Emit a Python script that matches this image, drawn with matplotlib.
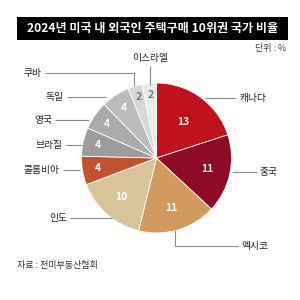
import matplotlib
matplotlib.use("Agg")
import matplotlib.pyplot as plt
from matplotlib.patches import Rectangle
import numpy as np

plt.rcParams['font.family'] = ['Noto Sans CJK KR', 'DejaVu Sans']

title = "2024년 미국 내 외국인 주택구매 10위권 국가 비율"
unit = "단위 : %"
source = "자료 : 전미부동산협회"
countries = ["캐나다", "중국", "멕시코", "인도", "콜롬비아", "브라질", "영국", "독일", "쿠바", "이스라엘"]
shares = [13, 11, 11, 10, 4, 4, 4, 4, 2, 2]
colors = ["#c0121c", "#8e0a25", "#d39a5f", "#d8c49b", "#c1522f",
          "#9c9c9c", "#ababab", "#bcbcbc", "#d8d8d8", "#ebebeb"]
value_colors = ["white"] * 8 + ["#777777", "#777777"]
value_dist = [0.6, 0.69, 0.69, 0.7, 0.8, 0.8, 0.8, 0.8, 0.85, 0.85]

fig = plt.figure(figsize=(3, 3), dpi=100)
ax = fig.add_axes([0, 0, 1, 1])

cx, cy, R = 156.5, 142, 75
wedges, _ = ax.pie(shares, colors=colors, startangle=90, counterclock=False,
                   center=(cx, cy), radius=R, frame=True,
                   wedgeprops=dict(edgecolor='white', linewidth=0.6))
ax.set_xlim(0, 300)
ax.set_ylim(0, 300)
ax.set_aspect('equal')
ax.axis('off')

start = 90.0
total = sum(shares)
for v, c, d in zip(shares, value_colors, value_dist):
    ang = start - v / total * 360 / 2
    start -= v / total * 360
    x = cx + R * d * np.cos(np.radians(ang))
    y = cy + R * d * np.sin(np.radians(ang))
    ax.text(x, y, str(v), color=c, fontsize=7.5, fontweight='bold',
            ha='center', va='center')

# title bar
ax.add_patch(Rectangle((17, 260), 271, 23, facecolor='black', edgecolor='none'))
ax.text(153, 271.5, title, color='white', fontsize=8.7, fontweight='black',
        ha='center', va='center')
ax.text(286, 252, unit, color='#444444', fontsize=6.5, ha='right', va='center')
ax.text(17, 35, source, color='#333333', fontsize=6.5, ha='left', va='center')

lc = '#8a8a8a'
lw = 0.8

def Y(y):
    return 300 - y

lines = [
    [(205, 98), (236, 98)],
    [(232, 172), (257, 172)],
    [(175, 230), (175, 246), (238, 246)],
    [(112, 218), (70, 218)],
    [(80, 170), (63, 170)],
    [(82, 145), (66, 145)],
    [(89, 120), (55, 120)],
    [(106, 97), (67, 97)],
    [(134, 86), (134, 73), (45, 73)],
    [(150, 85), (150, 66)],
]
for pts in lines:
    ax.plot([p[0] for p in pts], [Y(p[1]) for p in pts], color=lc, lw=lw,
            solid_capstyle='butt')

label_pos = [
    (239, 98, 'left'), (260, 172, 'left'), (241, 246, 'left'),
    (67, 218, 'right'), (60, 170, 'right'), (63, 145, 'right'),
    (52, 120, 'right'), (64, 97, 'right'), (42, 73, 'right'),
    (150, 58, 'center'),
]
for name, (x, y, ha) in zip(countries, label_pos):
    ax.text(x, Y(y), name, fontsize=7, color='#222222', ha=ha, va='center')

fig.savefig("out.png", dpi=100, facecolor='white')
